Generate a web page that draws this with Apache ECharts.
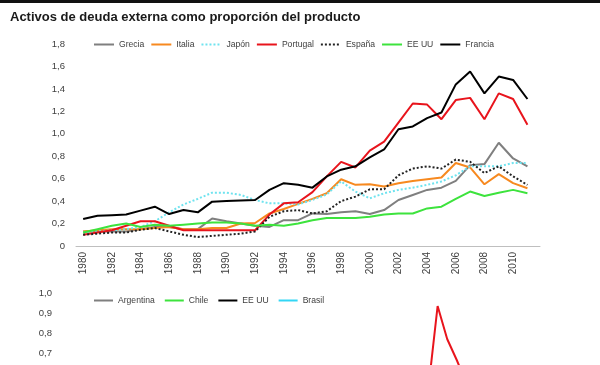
<!DOCTYPE html>
<html>
<head>
<meta charset="utf-8">
<script src="https://cdn.jsdelivr.net/npm/echarts@6/dist/echarts.min.js"></script>
<style>
html,body{margin:0;padding:0;background:#fff;}
#chart{width:600px;height:365px;}
</style>
</head>
<body>
<div id="chart"></div>
<script>
// ---------- data ----------
const years = [1980,1981,1982,1983,1984,1985,1986,1987,1988,1989,1990,1991,1992,1993,1994,1995,1996,1997,1998,1999,2000,2001,2002,2003,2004,2005,2006,2007,2008,2009,2010,2011];
const grecia   = [0.13,0.13,0.13,0.13,0.15,0.17,0.17,0.15,0.15,0.245,0.22,0.20,0.18,0.17,0.23,0.23,0.29,0.285,0.30,0.31,0.285,0.32,0.41,0.455,0.50,0.52,0.58,0.72,0.73,0.92,0.78,0.71];
const italia   = [0.13,0.14,0.15,0.15,0.15,0.16,0.17,0.15,0.15,0.16,0.16,0.20,0.205,0.29,0.33,0.375,0.42,0.47,0.595,0.545,0.55,0.53,0.56,0.58,0.595,0.61,0.74,0.70,0.55,0.64,0.56,0.515];
const japon    = [0.12,0.13,0.14,0.15,0.17,0.22,0.30,0.37,0.42,0.475,0.475,0.455,0.41,0.38,0.38,0.37,0.41,0.46,0.575,0.485,0.425,0.47,0.50,0.52,0.545,0.575,0.63,0.71,0.71,0.71,0.74,0.74];
const portugal = [0.10,0.12,0.14,0.18,0.22,0.22,0.18,0.14,0.14,0.14,0.14,0.14,0.14,0.28,0.38,0.39,0.48,0.62,0.75,0.70,0.85,0.93,1.10,1.27,1.26,1.13,1.30,1.32,1.13,1.36,1.31,1.08];
const espana   = [0.10,0.11,0.12,0.12,0.145,0.16,0.13,0.10,0.08,0.09,0.10,0.11,0.13,0.26,0.31,0.32,0.29,0.31,0.40,0.44,0.505,0.505,0.63,0.69,0.71,0.69,0.77,0.75,0.65,0.71,0.62,0.545];
const eeuu     = [0.12,0.15,0.18,0.20,0.17,0.19,0.18,0.19,0.20,0.21,0.21,0.20,0.18,0.19,0.18,0.20,0.23,0.25,0.25,0.25,0.26,0.28,0.29,0.29,0.335,0.35,0.42,0.485,0.445,0.475,0.50,0.47];
const francia  = [0.24,0.27,0.275,0.28,0.315,0.35,0.285,0.32,0.30,0.395,0.40,0.405,0.41,0.50,0.56,0.545,0.52,0.62,0.68,0.71,0.79,0.86,1.04,1.065,1.14,1.19,1.44,1.555,1.36,1.51,1.48,1.31];

const bottomYears = [];
for (let y = 1962; y <= 2011; y++) bottomYears.push(String(y));
// only the visible part of the lower chart (red line around its peak)
const redYearsLower = ['2000','2001','2002','2003','2004'];
const redValsLower  = [0.51,0.935,0.77,0.665,0.55];

const topNames = ['Grecia','Italia','Japón','Portugal','España','EE UU','Francia'];
const bottomNames = ['Argentina','Chile','EE UU ','Brasil'];

// ---------- styling ----------
const FONT = "'Liberation Sans',Arial,sans-serif";
const TXT = '#404040';
const fmt = v => v === 0 ? '0' : v.toFixed(1).replace('.', ',');

const topSeriesDefs = [
  {name:'Grecia',   data:grecia,   color:'#7f7f7f', type:'solid'},
  {name:'Italia',   data:italia,   color:'#f7891f', type:'solid'},
  {name:'Japón',    data:japon,    color:'#6fe3ef', type:'dotted'},
  {name:'Portugal', data:portugal, color:'#e8141c', type:'solid'},
  {name:'España',   data:espana,   color:'#222222', type:'dotted'},
  {name:'EE UU',    data:eeuu,     color:'#3de33d', type:'solid'},
  {name:'Francia',  data:francia,  color:'#000000', type:'solid'}
];

const series = topSeriesDefs.map(d => ({
  name: d.name, type: 'line', xAxisIndex: 0, yAxisIndex: 0,
  data: d.data, symbol: 'none', color: d.color,
  lineStyle: {color: d.color, width: 2, type: d.type},
  animation: false
}));

const redMap = {};
redYearsLower.forEach((y,i) => redMap[y] = redValsLower[i]);
series.push({
  name: '', type: 'line', xAxisIndex: 2, yAxisIndex: 2,
  data: bottomYears.map(y => (y in redMap) ? redMap[y] : null),
  symbol: 'none', color: '#e8141c', lineStyle: {color:'#e8141c', width: 2}, animation: false
});
const bottomColors = {'Argentina':'#7f7f7f','Chile':'#3de33d','EE UU ':'#000000','Brasil':'#33d6f5'};
bottomNames.forEach(n => series.push({
  name: n, type: 'line', xAxisIndex: 2, yAxisIndex: 2, data: [], symbol: 'none',
  color: bottomColors[n], lineStyle: {color: bottomColors[n], width: 2}, animation: false
}));

const legendCommon = {
  padding: 0, itemHeight: 10,
  itemStyle: {opacity: 0, borderWidth: 0},
  textStyle: {fontFamily: FONT, fontSize: 8.6, color: TXT}
};

const chart = echarts.init(document.getElementById('chart'), null, {renderer: 'canvas'});
chart.setOption({
  backgroundColor: '#fff',
  animation: false,
  title: {
    text: 'Activos de deuda externa como proporción del producto',
    left: 10, top: 11, padding: 0,
    textStyle: {fontFamily: FONT, fontSize: 13, fontWeight: 'bold', color: '#1a1a1a'}
  },
  graphic: [{type:'rect', left: 0, top: 0, shape:{width:600, height:3}, style:{fill:'#111'}}],
  legend: [
    Object.assign({data: topNames, left: 93, top: 40, itemWidth: 20, itemGap: 6}, legendCommon),
    Object.assign({data: bottomNames, left: 93, top: 296, itemWidth: 19, itemGap: 9,
                   formatter: n => n.trim()}, legendCommon)
  ],
  grid: [
    {left: 76, top: 44, width: 458.6, height: 202, outerBoundsMode: 'none'},
    {left: 76, top: 44, right: 60, height: 202, outerBoundsMode: 'none'},
    {left: 60, top: 293, right: 62, height: 200, outerBoundsMode: 'none'}
  ],
  xAxis: [
    {gridIndex: 0, type: 'category', data: years.map(String), boundaryGap: true,
     axisLine: {show: false}, axisTick: {show: false},
     axisLabel: {interval: 1, rotate: 90, margin: 6, fontFamily: FONT, fontSize: 10, color: TXT}},
    {gridIndex: 1, type: 'value', min: 0, max: 1,
     axisLine: {show: true, lineStyle: {color: '#bfbfbf', width: 1}},
     axisTick: {show: false}, axisLabel: {show: false}, splitLine: {show: false}},
    {gridIndex: 2, type: 'category', data: bottomYears, boundaryGap: true,
     axisLine: {lineStyle: {color: '#bfbfbf'}}, axisTick: {show: false},
     axisLabel: {show: false}}
  ],
  yAxis: [
    {gridIndex: 0, type: 'value', min: 0, max: 1.8, interval: 0.2,
     axisLine: {show: false}, axisTick: {show: false}, splitLine: {show: false},
     axisLabel: {formatter: fmt, margin: 11, fontFamily: FONT, fontSize: 9.5, color: TXT}},
    {gridIndex: 1, type: 'value', show: false, min: 0, max: 1, splitLine: {show: false}},
    {gridIndex: 2, type: 'value', min: 0, max: 1.0, interval: 0.1,
     axisLine: {show: false}, axisTick: {show: false}, splitLine: {show: false},
     axisLabel: {formatter: fmt, margin: 8, fontFamily: FONT, fontSize: 9.5, color: TXT}}
  ],
  series: series
});
</script>
</body>
</html>
